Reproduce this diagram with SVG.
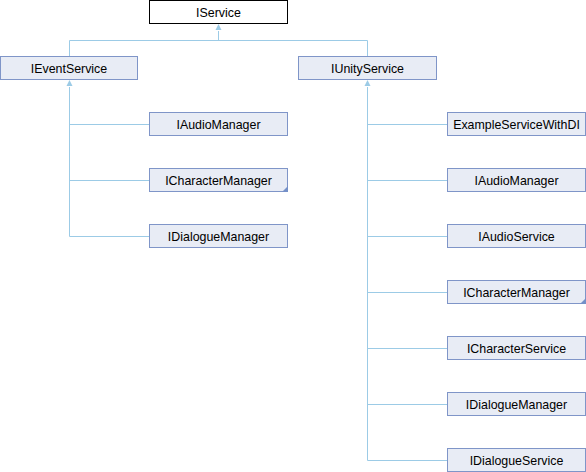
<svg xmlns="http://www.w3.org/2000/svg" width="586" height="472" viewBox="0 0 586 472">
<defs>
<style>
.n rect{fill:#E8ECF5;stroke:#7F95C8;stroke-width:1}
.root rect{fill:#FFFFFF;stroke:#000000}
.n text{font-family:"Liberation Sans",Arial,sans-serif;font-size:12.4px;fill:#000;text-anchor:middle}
.e{fill:none;stroke:#9CCBE6;stroke-width:1}
.c{fill:#7490C8}
</style>
<marker id="ah" markerWidth="7" markerHeight="8" refX="3.5" refY="0.5" orient="auto-start-reverse" markerUnits="userSpaceOnUse" viewBox="0 0 7 8">
<path d="M3.5,0.5 L6.5,6.5 L0.5,6.5 Z" fill="#9CCBE6"/>
</marker>
</defs>
<g id="connectors">
<path class="e" d="M218.5,31 V40.5 M69.5,56 V40.5 H367.5 V56"/>
<path d="M218.5,24 L221.5,30 L215.5,30 Z" fill="#9CCBE6"/>
<path class="e" d="M69.5,87 V236.5 H149 M69.5,124.5 H149 M69.5,180.5 H149"/>
<path d="M69.5,80 L72.5,86 L66.5,86 Z" fill="#9CCBE6"/>
<path class="e" d="M367.5,87 V460.5 H447 M367.5,124.5 H447 M367.5,180.5 H447 M367.5,236.5 H447 M367.5,292.5 H447 M367.5,348.5 H447 M367.5,404.5 H447"/>
<path d="M367.5,80 L370.5,86 L364.5,86 Z" fill="#9CCBE6"/>
</g>
<g id="IService" class="n root"><rect x="149.5" y="0.5" width="138" height="23"/><text x="218.5" y="16.5">IService</text></g>
<g id="IEventService" class="n"><rect x="0.5" y="56.5" width="137" height="23"/><text x="69" y="72.5">IEventService</text></g>
<g id="IUnityService" class="n"><rect x="298.5" y="56.5" width="138" height="23"/><text x="367.5" y="72.5">IUnityService</text></g>
<g id="L_IAudioManager" class="n"><rect x="149.5" y="112.5" width="138" height="23"/><text x="218.5" y="128.5">IAudioManager</text></g>
<g id="L_ICharacterManager" class="n"><rect x="149.5" y="168.5" width="138" height="23"/><text x="218.5" y="184.5">ICharacterManager</text><path class="c" d="M288,186 V192 H282 Z"/></g>
<g id="L_IDialogueManager" class="n"><rect x="149.5" y="224.5" width="138" height="23"/><text x="218.5" y="240.5">IDialogueManager</text></g>
<g id="ExampleServiceWithDI" class="n"><rect x="447.5" y="112.5" width="138" height="23"/><text x="516.5" y="128.5">ExampleServiceWithDI</text></g>
<g id="R_IAudioManager" class="n"><rect x="447.5" y="168.5" width="138" height="23"/><text x="516.5" y="184.5">IAudioManager</text></g>
<g id="IAudioService" class="n"><rect x="447.5" y="224.5" width="138" height="23"/><text x="516.5" y="240.5">IAudioService</text></g>
<g id="R_ICharacterManager" class="n"><rect x="447.5" y="280.5" width="138" height="23"/><text x="516.5" y="296.5">ICharacterManager</text><path class="c" d="M586,298 V304 H580 Z"/></g>
<g id="ICharacterService" class="n"><rect x="447.5" y="336.5" width="138" height="23"/><text x="516.5" y="352.5">ICharacterService</text></g>
<g id="R_IDialogueManager" class="n"><rect x="447.5" y="392.5" width="138" height="23"/><text x="516.5" y="408.5">IDialogueManager</text></g>
<g id="IDialogueService" class="n"><rect x="447.5" y="448.5" width="138" height="23"/><text x="516.5" y="464.5">IDialogueService</text></g>
</svg>
